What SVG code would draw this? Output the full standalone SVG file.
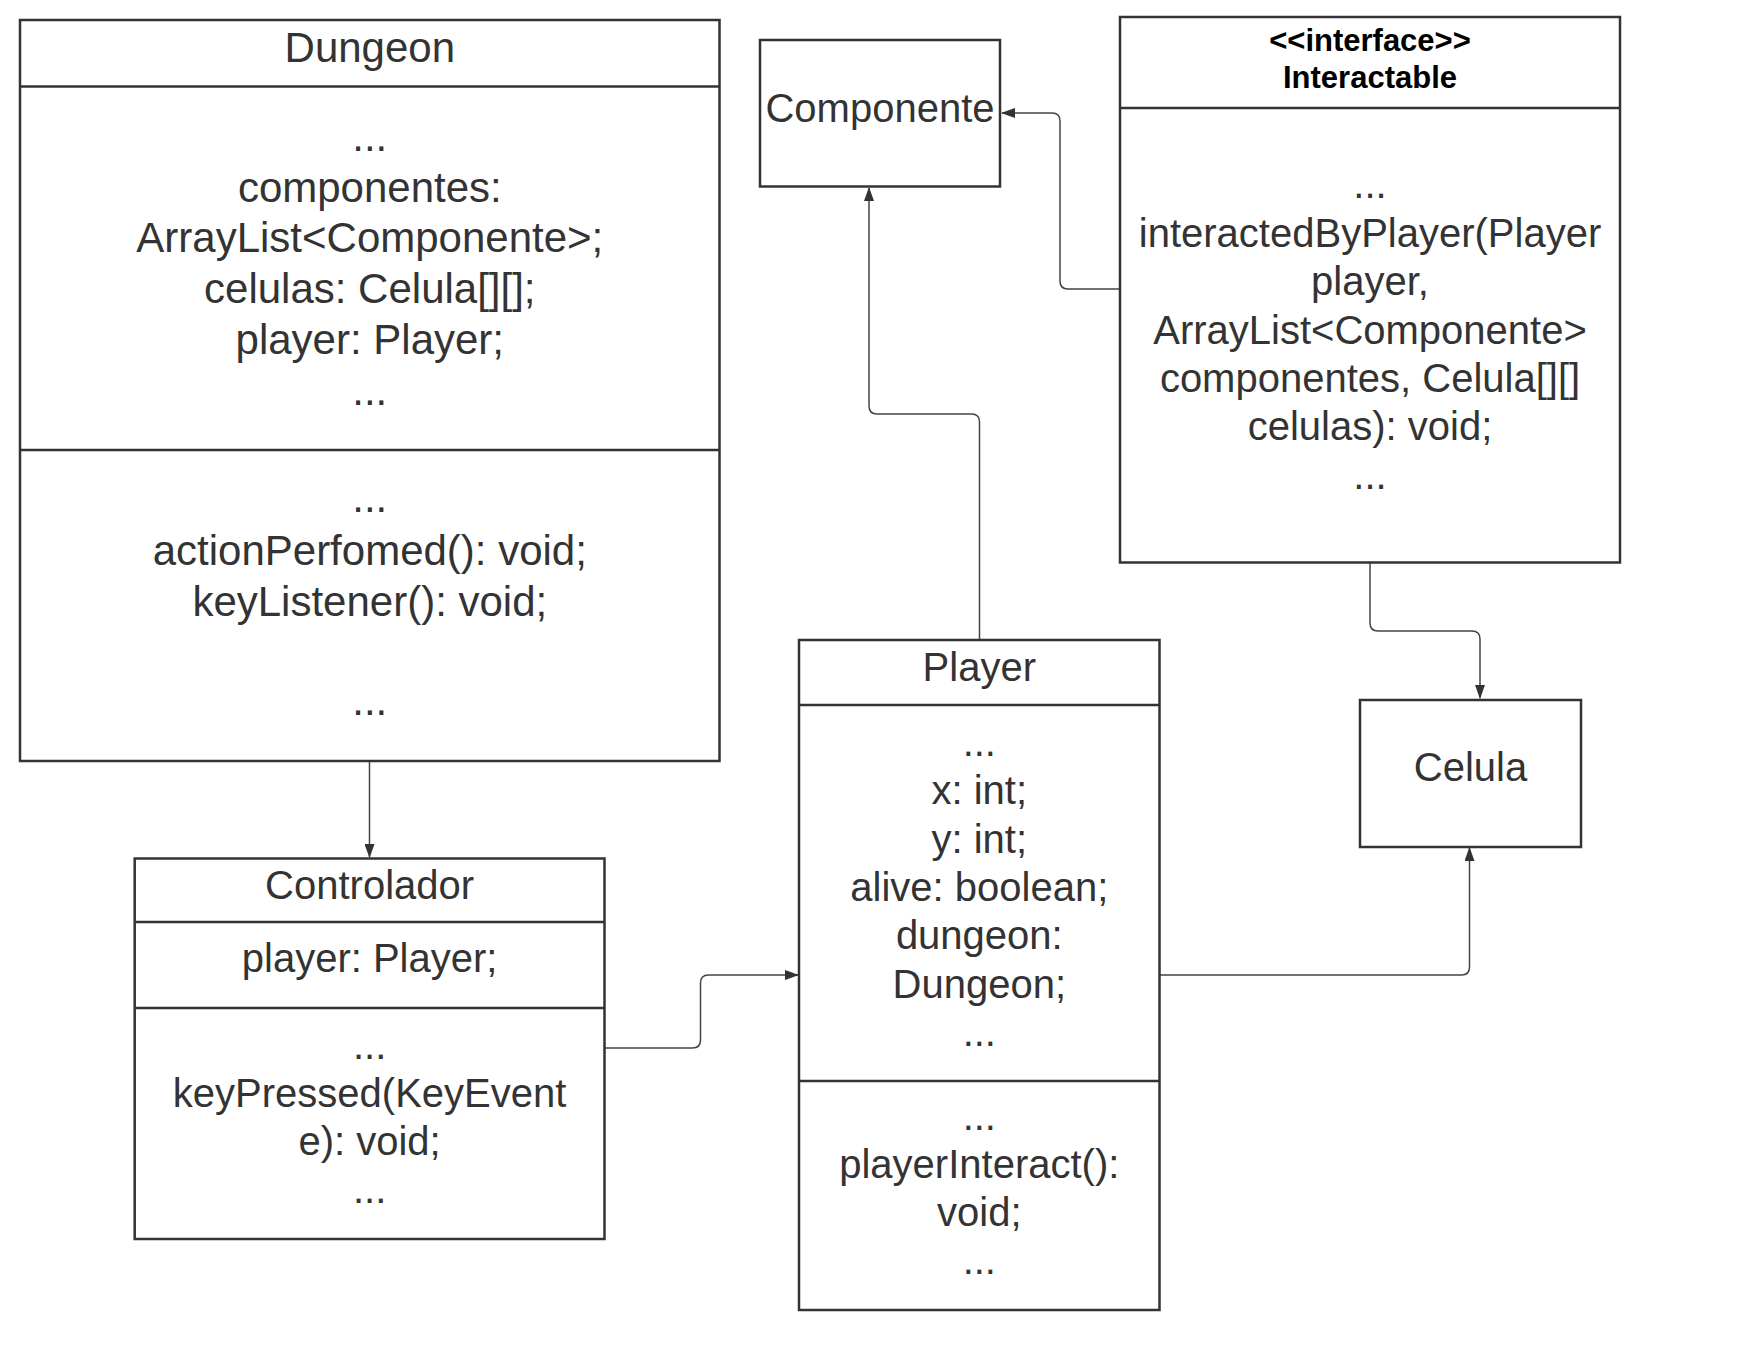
<svg xmlns="http://www.w3.org/2000/svg" width="1760" height="1360" viewBox="0 0 1760 1360">
<style>
.box{fill:#fff;stroke:#333;stroke-width:2.5}
.div{stroke:#333;stroke-width:2.5;fill:none}
.t{font-family:"Liberation Sans",Arial,sans-serif;font-size:40px;fill:#333;text-anchor:middle}
.t42{font-size:42px}
.b{font-family:"Liberation Sans",Arial,sans-serif;font-size:31px;font-weight:bold;fill:#000;text-anchor:middle}
.c{fill:none;stroke:#444;stroke-width:1.5}
</style>
<defs>
<marker id="arr" viewBox="0 0 14 10" refX="13" refY="5" markerWidth="14" markerHeight="10" markerUnits="userSpaceOnUse" orient="auto">
<path d="M0,0 L14,5 L0,10 Z" fill="#333"/>
</marker>
</defs>
<rect width="1760" height="1360" fill="#fff"/>
<g id="connectors">
<path class="c" d="M369.5,761 L369.5,857" marker-end="url(#arr)"/>
<path class="c" d="M604.5,1048 L692.5,1048 Q700.5,1048 700.5,1040 L700.5,983 Q700.5,975 708.5,975 L798,975" marker-end="url(#arr)"/>
<path class="c" d="M1159.5,975 L1461.5,975 Q1469.5,975 1469.5,967 L1469.5,848" marker-end="url(#arr)"/>
<path class="c" d="M979.5,640 L979.5,422 Q979.5,414 971.5,414 L877,414 Q869,414 869,406 L869,188" marker-end="url(#arr)"/>
<path class="c" d="M1120,289 L1068,289 Q1060,289 1060,281 L1060,121 Q1060,113 1052,113 L1002,113" marker-end="url(#arr)"/>
<path class="c" d="M1370,562 L1370,623 Q1370,631 1378,631 L1472,631 Q1480,631 1480,639 L1480,698" marker-end="url(#arr)"/>
</g>
<g id="Dungeon">
<rect class="box" x="20" y="20" width="699.5" height="741"/>
<line class="div" x1="20" y1="86.5" x2="719.5" y2="86.5"/>
<line class="div" x1="20" y1="450" x2="719.5" y2="450"/>
<text class="t t42" x="369.8" y="62">Dungeon</text>
<text class="t t42" x="369.8" y="150.5">...</text>
<text class="t t42" x="369.8" y="201.5">componentes:</text>
<text class="t t42" x="369.8" y="252.3">ArrayList&lt;Componente&gt;;</text>
<text class="t t42" x="369.8" y="303.2">celulas: Celula[][];</text>
<text class="t t42" x="369.8" y="354">player: Player;</text>
<text class="t t42" x="369.8" y="405">...</text>
<text class="t t42" x="369.8" y="512">...</text>
<text class="t t42" x="369.8" y="564.5">actionPerfomed(): void;</text>
<text class="t t42" x="369.8" y="615.5">keyListener(): void;</text>
<text class="t t42" x="369.8" y="715">...</text>
</g>
<g id="Componente">
<rect class="box" x="760" y="40" width="240" height="146.5"/>
<text class="t" x="880" y="121.5">Componente</text>
</g>
<g id="Interactable">
<rect class="box" x="1120" y="17" width="500" height="545.5"/>
<line class="div" x1="1120" y1="108" x2="1620" y2="108"/>
<text class="b" x="1370" y="50.5">&lt;&lt;interface&gt;&gt;</text>
<text class="b" x="1370" y="87.5">Interactable</text>
<text class="t" x="1370" y="198">...</text>
<text class="t" x="1370" y="247">interactedByPlayer(Player</text>
<text class="t" x="1370" y="295.3">player,</text>
<text class="t" x="1370" y="343.6">ArrayList&lt;Componente&gt;</text>
<text class="t" x="1370" y="391.9">componentes, Celula[][]</text>
<text class="t" x="1370" y="440.2">celulas): void;</text>
<text class="t" x="1370" y="488.5">...</text>
</g>
<g id="Controlador">
<rect class="box" x="134.7" y="858.5" width="469.8" height="380.5"/>
<line class="div" x1="134.7" y1="922" x2="604.5" y2="922"/>
<line class="div" x1="134.7" y1="1008" x2="604.5" y2="1008"/>
<text class="t" x="369.6" y="898.5">Controlador</text>
<text class="t" x="369.6" y="972">player: Player;</text>
<text class="t" x="369.6" y="1059">...</text>
<text class="t" x="369.6" y="1107">keyPressed(KeyEvent</text>
<text class="t" x="369.6" y="1155">e): void;</text>
<text class="t" x="369.6" y="1203">...</text>
</g>
<g id="Player">
<rect class="box" x="799" y="640" width="360.5" height="670"/>
<line class="div" x1="799" y1="705" x2="1159.5" y2="705"/>
<line class="div" x1="799" y1="1081" x2="1159.5" y2="1081"/>
<text class="t" x="979.3" y="681">Player</text>
<text class="t" x="979.3" y="756">...</text>
<text class="t" x="979.3" y="804.3">x: int;</text>
<text class="t" x="979.3" y="852.6">y: int;</text>
<text class="t" x="979.3" y="900.9">alive: boolean;</text>
<text class="t" x="979.3" y="949.2">dungeon:</text>
<text class="t" x="979.3" y="997.5">Dungeon;</text>
<text class="t" x="979.3" y="1045.8">...</text>
<text class="t" x="979.3" y="1130">...</text>
<text class="t" x="979.3" y="1178">playerInteract():</text>
<text class="t" x="979.3" y="1226">void;</text>
<text class="t" x="979.3" y="1274">...</text>
</g>
<g id="Celula">
<rect class="box" x="1360" y="700" width="221" height="147"/>
<text class="t" x="1470.5" y="781">Celula</text>
</g>
</svg>
